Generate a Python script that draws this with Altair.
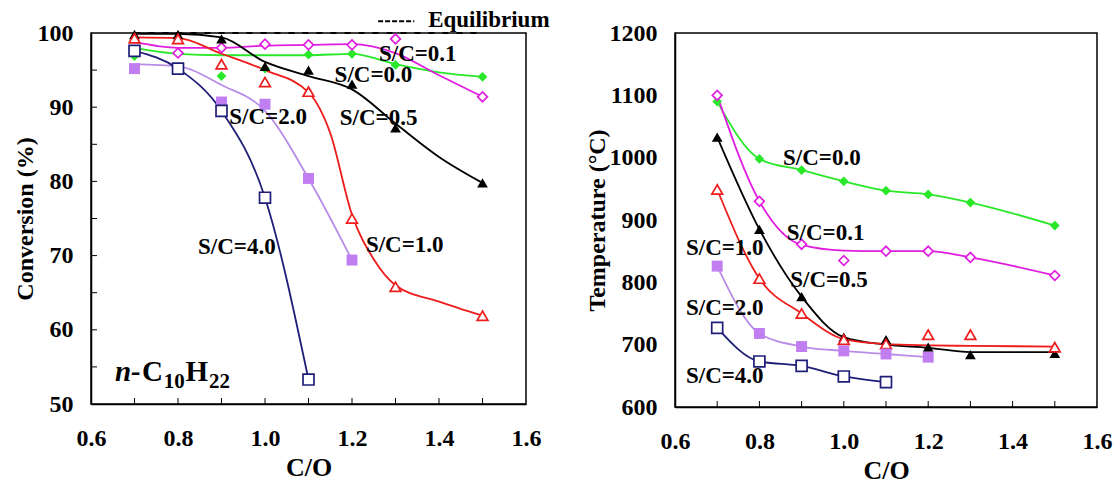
import altair as alt
import pandas as pd

FONT = "Liberation Serif"

# ---------------- shared ----------------
CO_MARK = [0.7, 0.8, 0.9, 1.0, 1.1, 1.2, 1.3, 1.5]
CO_TICKS = [0.7, 0.8, 0.9, 1.0, 1.1, 1.2, 1.3, 1.4, 1.5]
X_LABELS = [0.6, 0.8, 1.0, 1.2, 1.4, 1.6]

SERIES = ["S/C=0.0", "S/C=0.1", "S/C=0.5", "S/C=1.0", "S/C=2.0", "S/C=4.0"]
LINE_COLORS = ["#28e828", "#e01ee0", "#000000", "#ee1c1c", "#b88ce8", "#1e1e78"]
MARK_COLORS = ["#28e828", "#e01ee0", "#000000", "#ee1c1c", "#c07ef0", "#1e1e78"]
SHAPES = ["diamond", "diamond", "triangle-up", "triangle-up", "square", "square"]
FILLED = [True, False, True, False, True, False]
SIZES = [95, 95, 115, 115, 120, 120]

# ---------------- left panel: conversion (%) ----------------
CONV_MARKS = [
    [96.9, None, 94.2, 95.2, 97.1, 97.2, 95.7, 94.1],    # S/C=0.0
    [None, 97.3, 98.0, 98.5, 98.4, 98.4, 99.2, 91.4],    # S/C=0.1
    [99.8, 99.8, 99.2, 95.5, 95.0, 93.1, 87.2, 79.8],    # S/C=0.5
    [99.3, 99.2, 95.8, 93.4, 92.1, 75.0, 65.8, 61.9],    # S/C=1.0
    [95.2, None, 90.7, 90.4, 80.4, 69.4, None, None],    # S/C=2.0
    [97.6, 95.2, 89.5, 77.8, 53.3, None, None, None],    # S/C=4.0
]
CONV_LINE_X = [
    [0.7, 0.8, 0.9, 1.0, 1.1, 1.2, 1.3, 1.4, 1.5],
    [0.7, 0.8, 0.9, 1.0, 1.1, 1.2, 1.3, 1.4, 1.5],
    [0.7, 0.8, 0.9, 1.0, 1.1, 1.2, 1.3, 1.4, 1.5],
    [0.7, 0.8, 0.9, 1.0, 1.1, 1.15, 1.2, 1.25, 1.3, 1.4, 1.5],
    [0.7, 0.8, 0.9, 1.0, 1.1, 1.2],
    [0.7, 0.8, 0.9, 1.0, 1.1],
]
CONV_LINE_Y = [
    [98.0, 97.2, 97.0, 97.0, 97.0, 97.2, 95.8, 94.7, 94.1],
    [98.8, 98.0, 98.0, 98.3, 98.4, 98.5, 97.3, 94.3, 91.4],
    [99.9, 99.9, 99.4, 96.1, 94.2, 92.4, 87.8, 83.3, 79.8],
    [99.4, 99.3, 97.2, 95.0, 92.0, 86.5, 75.5, 69.5, 66.0, 63.8, 61.9],
    [95.8, 95.5, 93.0, 89.5, 80.4, 69.4],
    [97.6, 95.2, 89.5, 77.8, 53.3],
]
EQ_CO = [0.7, 1.5]
EQ_VAL = [100.0, 100.0]
CONV_TICKS_Y = [55, 60, 65, 70, 75, 80, 85, 90, 95]
CONV_LABELS_Y = [50, 60, 70, 80, 90, 100]

CONV_TEXT = ["S/C=0.1", "S/C=0.0", "S/C=2.0", "S/C=0.5", "S/C=4.0", "S/C=1.0"]
CONV_TEXT_X = [1.262, 1.160, 0.918, 1.172, 0.846, 1.232]
CONV_TEXT_Y = [97.2, 94.3, 88.7, 88.5, 71.2, 71.4]

# ---------------- right panel: temperature ----------------
TEMP_MARKS = [
    [1090, 998, 980, 962, 947, 941, 928, 891],
    [1100, 930, 861, 835, 850, 850, 840, 811],
    [1033, 885, 777, 712, 708, 696, 684, 686],
    [949, 806, 750, 708, 701, 716, 716, 696],
    [826, 718, 697, 690, 685, 680, None, None],
    [727, 673, 666, 649, 640, None, None, None],
]
TEMP_LINE_X = [
    [0.7, 0.8, 0.9, 1.0, 1.1, 1.2, 1.3, 1.5],
    [0.7, 0.8, 0.9, 1.0, 1.1, 1.2, 1.3, 1.5],
    [0.7, 0.8, 0.9, 1.0, 1.1, 1.2, 1.3, 1.5],
    [0.7, 0.8, 0.9, 1.0, 1.1, 1.2, 1.3, 1.5],
    [0.7, 0.8, 0.9, 1.0, 1.1, 1.2],
    [0.7, 0.8, 0.9, 1.0, 1.1],
]
TEMP_LINE_Y = [
    [1090, 998, 980, 962, 947, 941, 928, 891],
    [1100, 930, 860, 851, 850, 850, 840, 811],
    [1033, 885, 777, 712, 700, 695, 688, 688],
    [949, 806, 750, 709, 701, 699, 698, 697],
    [826, 718, 697, 690, 685, 680],
    [727, 673, 666, 649, 640],
]
TEMP_LABELS_Y = [600, 700, 800, 900, 1000, 1100, 1200]

TEMP_TEXT = ["S/C=0.0", "S/C=0.1", "S/C=1.0", "S/C=0.5", "S/C=2.0", "S/C=4.0"]
TEMP_TEXT_X = [0.856, 0.865, 0.626, 0.873, 0.626, 0.626]
TEMP_TEXT_Y = [999.5, 879, 855, 804, 759, 650]

LW, LH = 435, 371
RW, RH = 422, 374


def xenc(field="co"):
    return alt.X(f"{field}:Q", scale=alt.Scale(domain=[0.6, 1.6], nice=False, zero=False),
                 axis=alt.Axis(values=X_LABELS, format=".1f", title="C/O"))


def yenc(domain, values, title, field="v"):
    return alt.Y(f"{field}:Q", scale=alt.Scale(domain=domain, nice=False, zero=False),
                 axis=alt.Axis(values=values, format="d", title=title))


def panel(marks, line_x, line_y, domain, yvals, title, ytick_vals, w, h, texts, tx, ty):
    layers = []
    for i in range(len(SERIES)):
        df = pd.DataFrame({"co": line_x[i], "v": line_y[i]})
        layers.append(
            alt.Chart(df).mark_line(color=LINE_COLORS[i], strokeWidth=1.8, interpolate="monotone")
            .encode(x=xenc(), y=yenc(domain, yvals, title))
        )
    for i in range(len(SERIES)):
        rows = [(c, v) for c, v in zip(CO_MARK, marks[i]) if v is not None]
        df = pd.DataFrame(rows, columns=["co", "v"])
        if FILLED[i]:
            mk = alt.Chart(df).mark_point(shape=SHAPES[i], size=SIZES[i], filled=True,
                                          color=MARK_COLORS[i], opacity=1)
        else:
            mk = alt.Chart(df).mark_point(shape=SHAPES[i], size=SIZES[i], filled=True,
                                          fill="white", stroke=MARK_COLORS[i],
                                          strokeWidth=1.7, opacity=1)
        layers.append(mk.encode(x=xenc(), y=yenc(domain, yvals, title)))
    dft = pd.DataFrame({"co": CO_TICKS})
    layers.append(
        alt.Chart(dft).mark_rule(color="black", strokeWidth=1)
        .encode(x=xenc(), y=alt.value(h), y2=alt.value(h - 6))
    )
    if ytick_vals:
        dfy = pd.DataFrame({"v": ytick_vals})
        layers.append(
            alt.Chart(dfy).mark_rule(color="black", strokeWidth=1)
            .encode(y=yenc(domain, yvals, title), x=alt.value(0), x2=alt.value(6))
        )
    dfl = pd.DataFrame({"co": tx, "v": ty, "t": texts})
    layers.append(
        alt.Chart(dfl).mark_text(align="left", baseline="middle", font=FONT, fontSize=23,
                                 fontWeight="bold", color="black")
        .encode(x=xenc(), y=yenc(domain, yvals, title), text="t:N")
    )
    return layers


CONV_TITLE = "Conversion (%)"
left_layers = panel(CONV_MARKS, CONV_LINE_X, CONV_LINE_Y, [50, 100], CONV_LABELS_Y,
                    CONV_TITLE, CONV_TICKS_Y, LW, LH, CONV_TEXT, CONV_TEXT_X, CONV_TEXT_Y)

eq_df = pd.DataFrame({"co": EQ_CO, "v": EQ_VAL})
left_layers.insert(0, alt.Chart(eq_df).mark_line(color="black", strokeWidth=2.2, strokeDash=[6, 8])
                   .encode(x=xenc(), y=yenc([50, 100], CONV_LABELS_Y, CONV_TITLE)))

LEG_X = [1.26]
LEG_X2 = [1.343]
LEG_Y = [101.6]
leg_df = pd.DataFrame({"co": LEG_X, "co2": LEG_X2, "v": LEG_Y})
left_layers.append(alt.Chart(leg_df).mark_rule(color="black", strokeWidth=2, strokeDash=[5, 2])
                   .encode(x=xenc(), x2="co2:Q", y=yenc([50, 100], CONV_LABELS_Y, CONV_TITLE)))
LEG_TEXT = ["Equilibrium"]
LEG_TX = [1.375]
LEG_TY = [101.8]
legt_df = pd.DataFrame({"co": LEG_TX, "v": LEG_TY, "t": LEG_TEXT})
left_layers.append(alt.Chart(legt_df).mark_text(align="left", baseline="middle", font=FONT,
                                                fontSize=23, fontWeight="bold", color="black")
                   .encode(x=xenc(), y=yenc([50, 100], CONV_LABELS_Y, CONV_TITLE), text="t:N"))

FORMULA_TEXT = ["n-", "C", "10", "H", "22"]
FORMULA_X = [0.655, 0.717, 0.767, 0.817, 0.871]
FORMULA_Y = [53.1, 53.1, 52.2, 53.1, 52.2]
FORMULA_SIZE = [29, 29, 21, 29, 21]
FORMULA_STYLE = ["italic", "normal", "normal", "normal", "normal"]
for t, cx, cy, fs, st in zip(FORMULA_TEXT, FORMULA_X, FORMULA_Y, FORMULA_SIZE, FORMULA_STYLE):
    fdf = pd.DataFrame({"co": [cx], "v": [cy], "t": [t]})
    left_layers.append(alt.Chart(fdf).mark_text(align="left", baseline="alphabetic", font=FONT,
                                                fontSize=fs, fontWeight="bold", fontStyle=st,
                                                color="black")
                       .encode(x=xenc(), y=yenc([50, 100], CONV_LABELS_Y, CONV_TITLE),
                               text="t:N"))

left = alt.layer(*left_layers).properties(width=LW, height=LH)

right_layers = panel(TEMP_MARKS, TEMP_LINE_X, TEMP_LINE_Y, [600, 1200], TEMP_LABELS_Y,
                     "Temperature (°C)", None, RW, RH, TEMP_TEXT, TEMP_TEXT_X, TEMP_TEXT_Y)
right = alt.layer(*right_layers).properties(width=RW, height=RH)

chart = (
    alt.hconcat(left, right, spacing=33)
    .properties(padding={"left": 12, "top": 7, "right": 2, "bottom": 2})
    .configure_view(stroke="black", strokeWidth=1.5)
    .configure_axis(labelFont=FONT, labelFontSize=24, labelFontWeight="bold", labelColor="black",
                    titleFont=FONT, titleFontSize=24, titleFontWeight="bold", titleColor="black",
                    grid=False, ticks=False, domainColor="black", domainWidth=1.5,
                    labelFlush=False, labelOverlap=False)
    .configure_axisX(labelPadding=22, titlePadding=4, titleFontSize=26)
    .configure_axisY(labelPadding=18, titlePadding=0)
)

chart.save("out.html", embed_options={"renderer": "svg", "actions": False})
